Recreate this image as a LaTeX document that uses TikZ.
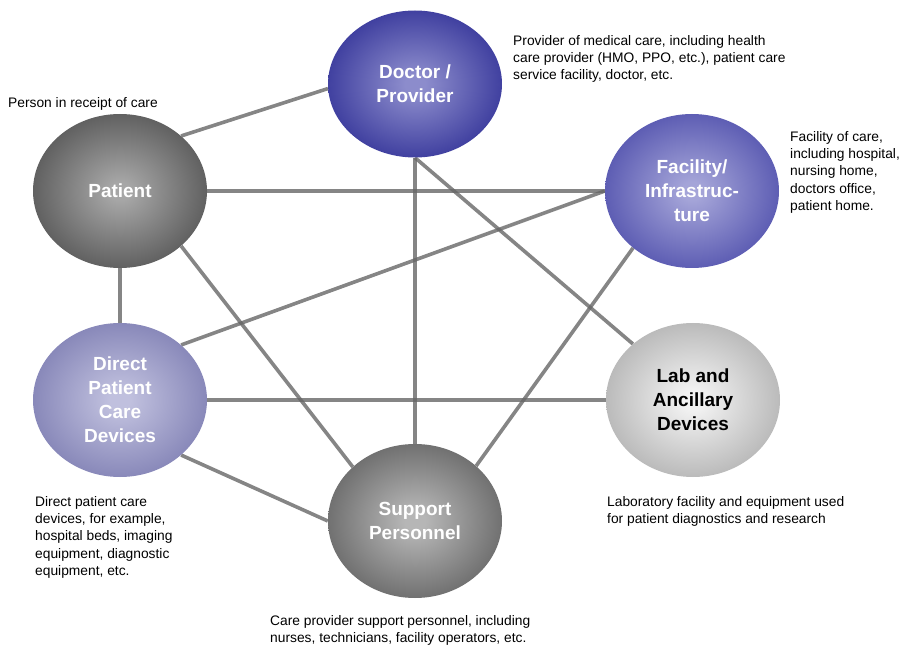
\documentclass[tikz,border=0pt]{standalone}
\usepackage{fontspec}
\setmainfont{Liberation Sans}
\usepackage{tikz}
\usetikzlibrary{
	shapes.geometric,
	backgrounds
}

\colorlet{orbin}{white}
\colorlet{orbout}{black}
\pgfdeclareradialshading[orbin,orbout]{orbglow}{\pgfpoint{0bp}{0bp}}{color(0bp)=(orbin); color(3bp)=(orbin); color(38bp)=(orbout); color(50bp)=(orbout)}

\definecolor{docin}{RGB}{140,140,204}
\definecolor{docout}{RGB}{20,20,134}
\definecolor{patin}{RGB}{166,166,166}
\definecolor{patout}{RGB}{56,56,56}
\definecolor{facin}{RGB}{164,164,216}
\definecolor{facout}{RGB}{52,52,158}
\definecolor{dirin}{RGB}{192,192,222}
\definecolor{dirout}{RGB}{104,104,164}
\definecolor{labin}{RGB}{242,242,242}
\definecolor{labout}{RGB}{154,154,154}
\definecolor{supin}{RGB}{182,182,182}
\definecolor{supout}{RGB}{72,72,72}

\begin{document}
\begin{tikzpicture}[
			x=1pt, y=-1pt,
			orb/.style 2 args={ellipse, minimum width=174pt, minimum height=154pt, inner sep=0pt, align=center,
				shading=orbglow, /utils/exec={\colorlet{orbin}{#1}\colorlet{orbout}{#2}},
				text=white, font=\bfseries\fontsize{19}{24}\selectfont},
			note/.style={anchor=north west, inner sep=0pt, align=left, font=\fontsize{13.8}{17.3}\selectfont},
			ln/.style={line width=3.6pt, draw=black!60, opacity=0.8}
		]

		\useasboundingbox (0,0) rectangle (903,647);

		\node[orb={docin}{docout}, minimum height=147pt] (doc) at (415,84) {Doctor /\\ Provider};
		\node[orb={patin}{patout}] (pat) at (120,191) {Patient};
		\node[orb={facin}{facout}] (fac) at (692,191) {Facility/\\ Infrastruc-\\ ture};
		\node[orb={dirin}{dirout}] (dir) at (120,400) {Direct\\ Patient\\ Care\\ Devices};
		\node[orb={labin}{labout}, text=black] (lab) at (693,400) {Lab and\\ Ancillary\\ Devices};
		\node[orb={supin}{supout}] (sup) at (415,521) {Support\\ Personnel};

		\begin{scope}[on background layer]
			\draw[ln] (pat.42) -- (doc.183);
			\draw[ln] (pat.east) -- (fac.west);
			\draw[ln] (pat.south) -- (dir.north);
			\draw[ln] (pat.-42) -- (sup.139);
			\draw[ln] (doc.south) -- (sup.north);
			\draw[ln] (doc.south) -- (lab.137);
			\draw[ln] (fac.west) -- (dir.42);
			\draw[ln] (fac.-136) -- (sup.42);
			\draw[ln] (dir.east) -- (lab.west);
			\draw[ln] (dir.-42) -- (sup.west);
		\end{scope}

		\node[note] (docnote) at (513,35) {Provider of medical care, including health\\ care provider (HMO, PPO, etc.), patient care\\ service facility, doctor, etc.};
		\node[note] (patnote) at (8,97) {Person in receipt of care};
		\node[note] (facnote) at (790,131) {Facility of care,\\ including hospital,\\ nursing home,\\ doctors office,\\ patient home.};
		\node[note] (dirnote) at (35,496) {Direct patient care\\ devices, for example,\\ hospital beds, imaging\\ equipment, diagnostic\\ equipment, etc.};
		\node[note] (labnote) at (607,496) {Laboratory facility and equipment used\\ for patient diagnostics and research};
		\node[note] (supnote) at (270,615) {Care provider support personnel, including\\ nurses, technicians, facility operators, etc.};
	\end{tikzpicture}
\end{document}
